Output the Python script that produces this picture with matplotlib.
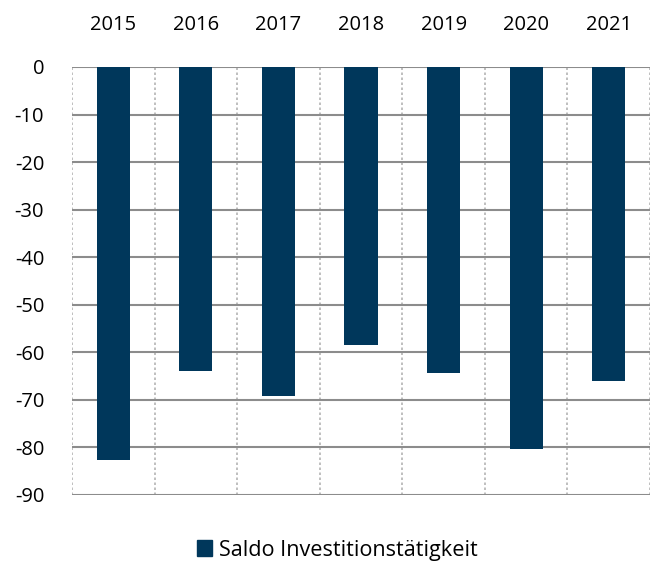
import numpy as np
import matplotlib.pyplot as plt
from matplotlib.patches import Patch

# --- Daten ---
jahre = ["2015", "2016", "2017", "2018", "2019", "2020", "2021"]
saldo = [-82.6, -63.9, -69.2, -58.5, -64.3, -80.3, -66.0]
serie = "Saldo Investitionstätigkeit"
farbe = "#00375b"

plt.rcParams['font.family'] = ['Open Sans', 'DejaVu Sans']
fs = 14.5

fig = plt.figure(figsize=(6.55, 5.61), dpi=100)
ax = fig.add_axes([72 / 655, 1 - 495 / 561, 578 / 655, 428 / 561])

x = np.arange(len(jahre))
ax.bar(x, saldo, width=0.4, color=farbe, zorder=3)

ax.set_xlim(-0.5, len(jahre) - 0.5)
ax.set_ylim(-90, 0)
ax.set_yticks(np.arange(-90, 1, 10))
ax.set_yticklabels([str(v) for v in np.arange(-90, 1, 10)], fontsize=fs)
ax.set_xticks(x)
ax.set_xticklabels(jahre, fontsize=fs)
ax.xaxis.tick_top()
ax.tick_params(axis='both', length=0)
ax.tick_params(axis='x', pad=23)
ax.tick_params(axis='y', pad=20)

# Gitterlinien
for y in np.arange(-90, 1, 10):
    ax.axhline(y, color="#8c8c8c", lw=1.5, zorder=2)
for b in np.arange(-0.5, len(jahre), 1.0):
    ax.axvline(b, color="#b4b4b4", lw=1.2, ls=(0, (1.5, 1.5)), zorder=1)

for s in ax.spines.values():
    s.set_visible(False)

fig.legend(handles=[Patch(color=farbe, label=serie)], loc="lower center",
           bbox_to_anchor=(0.515, -0.034), frameon=False, fontsize=15.6,
           handlelength=0.7, handleheight=0.7, handletextpad=0.3)

fig.savefig("out.png", dpi=100)
